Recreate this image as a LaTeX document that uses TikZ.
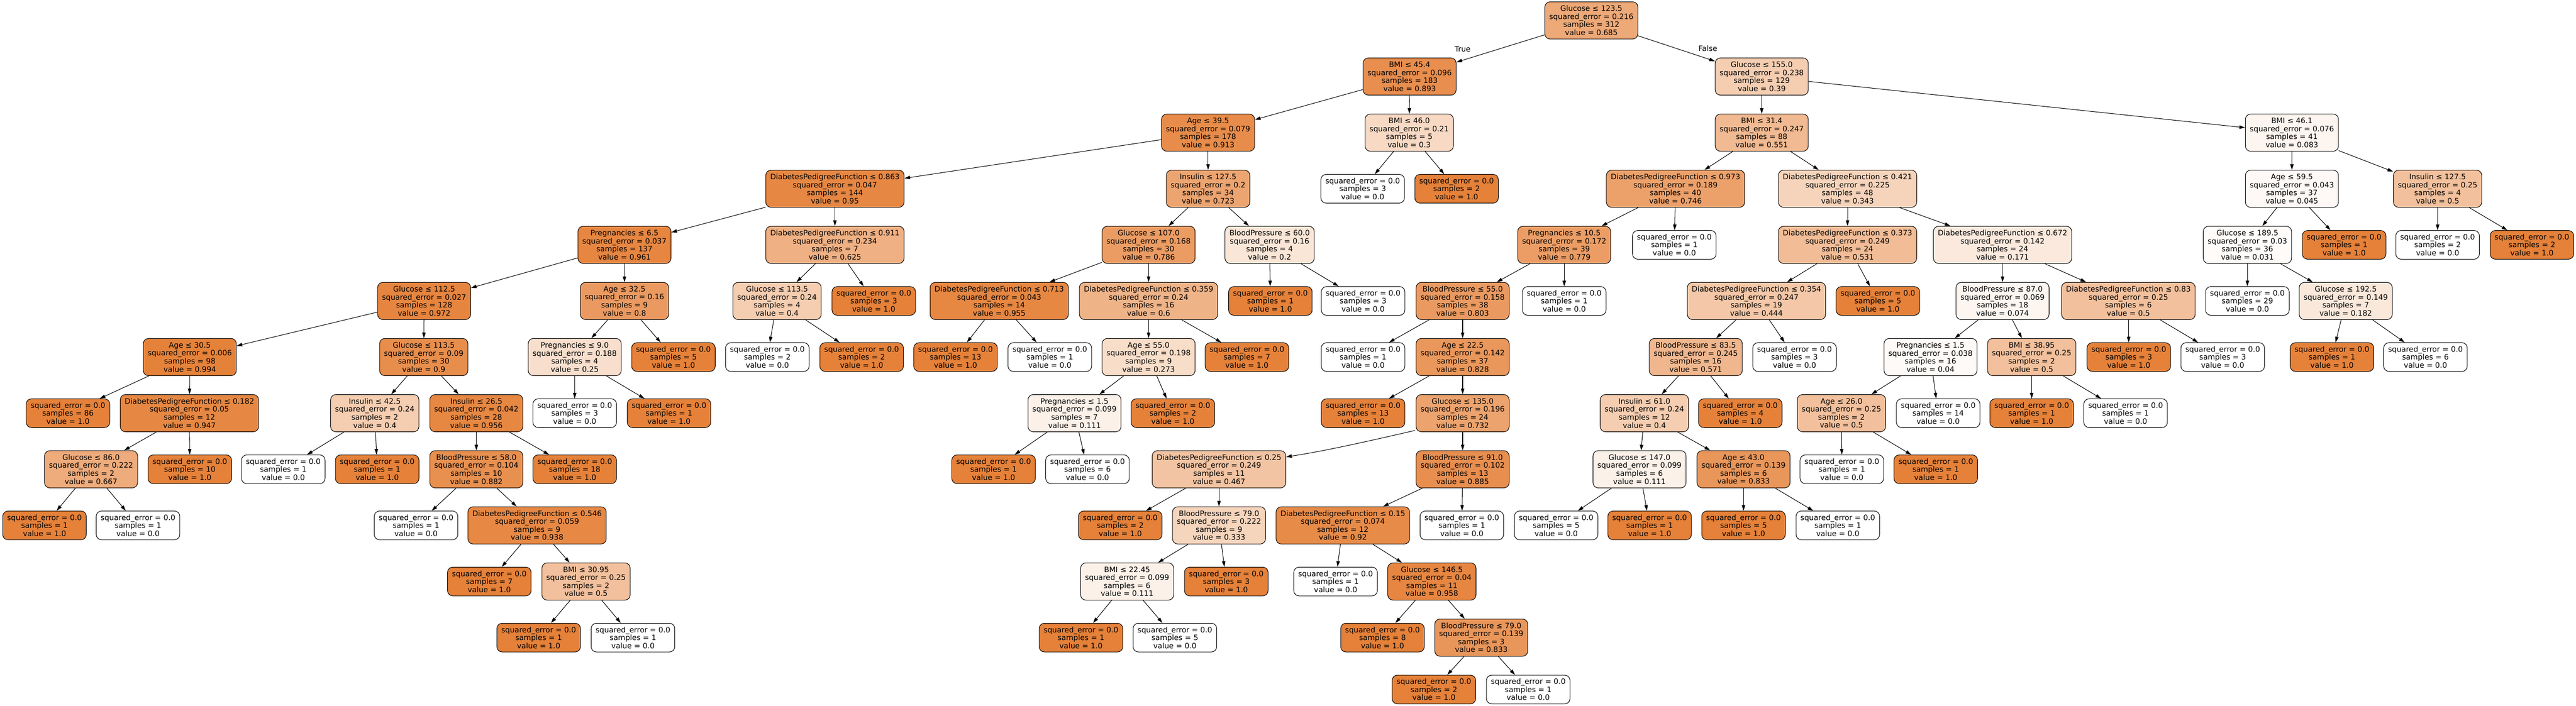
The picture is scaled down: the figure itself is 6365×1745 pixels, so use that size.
\documentclass[tikz,border=0pt]{standalone}
\usepackage{fontspec}
\setmainfont{DejaVu Sans}
\usetikzlibrary{arrows.meta}
\definecolor{tor}{RGB}{229,129,57}
\newcommand\tIN[7]{\pgfmathsetmacro\tpct{100*#7}\node[inn,fill=tor!\tpct] (#1) at (#2,#3) {#4\\squared\_error = #5\\samples = #6\\value = #7};}
\newcommand\tLF[5]{\pgfmathsetmacro\tpct{100*#5}\node[lf,fill=tor!\tpct] (#1) at (#2,#3) {squared\_error = 0.0\\samples = #4\\value = #5};}
\tikzset{
 tbox/.style={draw=black, line width=1.33pt, rounded corners=13pt, align=center, inner xsep=11pt, inner ysep=0pt, font=\fontsize{18.4}{19.8}\selectfont, text=black},
 inn/.style={tbox, minimum height=92pt},
 lf/.style={tbox, minimum height=71pt},
 tedge/.style={draw=black, line width=1.33pt, -{Triangle[length=14pt,width=8.5pt]}},
 lbl/.style={font=\fontsize{18.4}{19.8}\selectfont, inner sep=0pt, text=black}
}
\begin{document}
\begin{tikzpicture}[x=1pt,y=-1pt]
\useasboundingbox (0,0) rectangle (6365,1745);
% level 0
\tIN{n0}{3932}{50.5}{Glucose ≤ 123.5}{0.216}{312}{0.685}
% level 1
\tIN{n1}{3483}{189.2}{BMI ≤ 45.4}{0.096}{183}{0.893}
\tIN{n2}{4353}{189.2}{Glucose ≤ 155.0}{0.238}{129}{0.39}
% level 2
\tIN{n3}{2985}{327.9}{Age ≤ 39.5}{0.079}{178}{0.913}
\tIN{n4}{3482}{327.9}{BMI ≤ 46.0}{0.21}{5}{0.3}
\tIN{n5}{4353}{327.9}{BMI ≤ 31.4}{0.247}{88}{0.551}
\tIN{n6}{5663}{327.9}{BMI ≤ 46.1}{0.076}{41}{0.083}
% level 3
\tIN{n7}{2063}{466.6}{DiabetesPedigreeFunction ≤ 0.863}{0.047}{144}{0.95}
\tIN{n8}{2985}{466.6}{Insulin ≤ 127.5}{0.2}{34}{0.723}
\tLF{n9}{3367}{466.6}{3}{0.0}
\tLF{n10}{3599}{466.6}{2}{1.0}
\tIN{n11}{4140}{466.6}{DiabetesPedigreeFunction ≤ 0.973}{0.189}{40}{0.746}
\tIN{n12}{4565}{466.6}{DiabetesPedigreeFunction ≤ 0.421}{0.225}{48}{0.343}
\tIN{n13}{5663}{466.6}{Age ≤ 59.5}{0.043}{37}{0.045}
\tIN{n14}{6023}{466.6}{Insulin ≤ 127.5}{0.25}{4}{0.5}
% level 4
\tIN{n15}{1543}{605.3}{Pregnancies ≤ 6.5}{0.037}{137}{0.961}
\tIN{n16}{2063}{605.3}{DiabetesPedigreeFunction ≤ 0.911}{0.234}{7}{0.625}
\tIN{n17}{2838}{605.3}{Glucose ≤ 107.0}{0.168}{30}{0.786}
\tIN{n18}{3137}{605.3}{BloodPressure ≤ 60.0}{0.16}{4}{0.2}
\tIN{n19}{3865}{605.3}{Pregnancies ≤ 10.5}{0.172}{39}{0.779}
\tLF{n20}{4137}{605.3}{1}{0.0}
\tIN{n21}{4565}{605.3}{DiabetesPedigreeFunction ≤ 0.373}{0.249}{24}{0.531}
\tIN{n22}{4948}{605.3}{DiabetesPedigreeFunction ≤ 0.672}{0.142}{24}{0.171}
\tIN{n23}{5553}{605.3}{Glucose ≤ 189.5}{0.03}{36}{0.031}
\tLF{n24}{5792}{605.3}{1}{1.0}
\tLF{n25}{6023}{605.3}{2}{0.0}
\tLF{n26}{6256}{605.3}{2}{1.0}
% level 5
\tIN{n27}{1048}{744.0}{Glucose ≤ 112.5}{0.027}{128}{0.972}
\tIN{n28}{1543}{744.0}{Age ≤ 32.5}{0.16}{9}{0.8}
\tIN{n29}{1920}{744.0}{Glucose ≤ 113.5}{0.24}{4}{0.4}
\tLF{n30}{2159}{744.0}{3}{1.0}
\tIN{n31}{2469}{744.0}{DiabetesPedigreeFunction ≤ 0.713}{0.043}{14}{0.955}
\tIN{n32}{2838}{744.0}{DiabetesPedigreeFunction ≤ 0.359}{0.24}{16}{0.6}
\tLF{n33}{3139}{744.0}{1}{1.0}
\tLF{n34}{3368}{744.0}{3}{0.0}
\tIN{n35}{3614}{744.0}{BloodPressure ≤ 55.0}{0.158}{38}{0.803}
\tLF{n36}{3865}{744.0}{1}{0.0}
\tIN{n37}{4340}{744.0}{DiabetesPedigreeFunction ≤ 0.354}{0.247}{19}{0.444}
\tLF{n38}{4640}{744.0}{5}{1.0}
\tIN{n39}{4948}{744.0}{BloodPressure ≤ 87.0}{0.069}{18}{0.074}
\tIN{n40}{5259}{744.0}{DiabetesPedigreeFunction ≤ 0.83}{0.25}{6}{0.5}
\tLF{n41}{5553}{744.0}{29}{0.0}
\tIN{n42}{5796}{744.0}{Glucose ≤ 192.5}{0.149}{7}{0.182}
% level 6
\tIN{n43}{469}{882.7}{Age ≤ 30.5}{0.006}{98}{0.994}
\tIN{n44}{1047}{882.7}{Glucose ≤ 113.5}{0.09}{30}{0.9}
\tIN{n45}{1420}{882.7}{Pregnancies ≤ 9.0}{0.188}{4}{0.25}
\tLF{n46}{1664}{882.7}{5}{1.0}
\tLF{n47}{1896}{882.7}{2}{0.0}
\tLF{n48}{2129}{882.7}{2}{1.0}
\tLF{n49}{2361}{882.7}{13}{1.0}
\tLF{n50}{2594}{882.7}{1}{0.0}
\tIN{n51}{2838}{882.7}{Age ≤ 55.0}{0.198}{9}{0.273}
\tLF{n52}{3081}{882.7}{7}{1.0}
\tLF{n53}{3368}{882.7}{1}{0.0}
\tIN{n54}{3614}{882.7}{Age ≤ 22.5}{0.142}{37}{0.828}
\tIN{n55}{4190}{882.7}{BloodPressure ≤ 83.5}{0.245}{16}{0.571}
\tLF{n56}{4434}{882.7}{3}{0.0}
\tIN{n57}{4770}{882.7}{Pregnancies ≤ 1.5}{0.038}{16}{0.04}
\tIN{n58}{5020}{882.7}{BMI ≤ 38.95}{0.25}{2}{0.5}
\tLF{n59}{5260}{882.7}{3}{1.0}
\tLF{n60}{5492}{882.7}{3}{0.0}
\tLF{n61}{5762}{882.7}{1}{1.0}
\tLF{n62}{5993}{882.7}{6}{0.0}
% level 7
\tLF{n63}{168}{1021.4}{86}{1.0}
\tIN{n64}{468}{1021.4}{DiabetesPedigreeFunction ≤ 0.182}{0.05}{12}{0.947}
\tIN{n65}{926}{1021.4}{Insulin ≤ 42.5}{0.24}{2}{0.4}
\tIN{n66}{1177}{1021.4}{Insulin ≤ 26.5}{0.042}{28}{0.956}
\tLF{n67}{1420}{1021.4}{3}{0.0}
\tLF{n68}{1653}{1021.4}{1}{1.0}
\tIN{n69}{2655}{1021.4}{Pregnancies ≤ 1.5}{0.099}{7}{0.111}
\tLF{n70}{2898}{1021.4}{2}{1.0}
\tLF{n71}{3368}{1021.4}{13}{1.0}
\tIN{n72}{3614}{1021.4}{Glucose ≤ 135.0}{0.196}{24}{0.732}
\tIN{n73}{4063}{1021.4}{Insulin ≤ 61.0}{0.24}{12}{0.4}
\tLF{n74}{4300}{1021.4}{4}{1.0}
\tIN{n75}{4550}{1021.4}{Age ≤ 26.0}{0.25}{2}{0.5}
\tLF{n76}{4789}{1021.4}{14}{0.0}
\tLF{n77}{5020}{1021.4}{1}{1.0}
\tLF{n78}{5252}{1021.4}{1}{0.0}
% level 8
\tIN{n79}{225}{1160.1}{Glucose ≤ 86.0}{0.222}{2}{0.667}
\tLF{n80}{469}{1160.1}{10}{1.0}
\tLF{n81}{700}{1160.1}{1}{0.0}
\tLF{n82}{932}{1160.1}{1}{1.0}
\tIN{n83}{1177}{1160.1}{BloodPressure ≤ 58.0}{0.104}{10}{0.882}
\tLF{n84}{1420}{1160.1}{18}{1.0}
\tLF{n85}{2455}{1160.1}{1}{1.0}
\tLF{n86}{2687}{1160.1}{6}{0.0}
\tIN{n87}{3012}{1160.1}{DiabetesPedigreeFunction ≤ 0.25}{0.249}{11}{0.467}
\tIN{n88}{3614}{1160.1}{BloodPressure ≤ 91.0}{0.102}{13}{0.885}
\tIN{n89}{4051}{1160.1}{Glucose ≤ 147.0}{0.099}{6}{0.111}
\tIN{n90}{4308}{1160.1}{Age ≤ 43.0}{0.139}{6}{0.833}
\tLF{n91}{4551}{1160.1}{1}{0.0}
\tLF{n92}{4783}{1160.1}{1}{1.0}
% level 9
\tLF{n93}{110}{1298.8}{1}{1.0}
\tLF{n94}{341}{1298.8}{1}{0.0}
\tLF{n95}{1028}{1298.8}{1}{0.0}
\tIN{n96}{1327}{1298.8}{DiabetesPedigreeFunction ≤ 0.546}{0.059}{9}{0.938}
\tLF{n97}{2768}{1298.8}{2}{1.0}
\tIN{n98}{3012}{1298.8}{BloodPressure ≤ 79.0}{0.222}{9}{0.333}
\tIN{n99}{3318}{1298.8}{DiabetesPedigreeFunction ≤ 0.15}{0.074}{12}{0.92}
\tLF{n100}{3612}{1298.8}{1}{0.0}
\tLF{n101}{3845}{1298.8}{5}{0.0}
\tLF{n102}{4076}{1298.8}{1}{1.0}
\tLF{n103}{4308}{1298.8}{5}{1.0}
\tLF{n104}{4541}{1298.8}{1}{0.0}
% level 10
\tLF{n105}{1209}{1437.5}{7}{1.0}
\tIN{n106}{1448}{1437.5}{BMI ≤ 30.95}{0.25}{2}{0.5}
\tIN{n107}{2785}{1437.5}{BMI ≤ 22.45}{0.099}{6}{0.111}
\tLF{n108}{3030}{1437.5}{3}{1.0}
\tLF{n109}{3300}{1437.5}{1}{0.0}
\tIN{n110}{3538}{1437.5}{Glucose ≤ 146.5}{0.04}{11}{0.958}
% level 11
\tLF{n111}{1331}{1576.2}{1}{1.0}
\tLF{n112}{1564}{1576.2}{1}{0.0}
\tLF{n113}{2671}{1576.2}{1}{1.0}
\tLF{n114}{2903}{1576.2}{5}{0.0}
\tLF{n115}{3416}{1576.2}{8}{1.0}
\tIN{n116}{3660}{1576.2}{BloodPressure ≤ 79.0}{0.139}{3}{0.833}
% level 12
\tLF{n117}{3543}{1704.5}{2}{1.0}
\tLF{n118}{3776}{1704.5}{1}{0.0}
% edges
\foreach \a/\b in {n0/n1,n0/n2,n1/n3,n1/n4,n2/n5,n2/n6,n3/n7,n3/n8,n4/n9,n4/n10,
 n5/n11,n5/n12,n6/n13,n6/n14,n7/n15,n7/n16,n8/n17,n8/n18,n11/n19,n11/n20,
 n12/n21,n12/n22,n13/n23,n13/n24,n14/n25,n14/n26,n15/n27,n15/n28,n16/n29,n16/n30,
 n17/n31,n17/n32,n18/n33,n18/n34,n19/n35,n19/n36,n21/n37,n21/n38,n22/n39,n22/n40,
 n23/n41,n23/n42,n27/n43,n27/n44,n28/n45,n28/n46,n29/n47,n29/n48,n31/n49,n31/n50,
 n32/n51,n32/n52,n35/n53,n35/n54,n37/n55,n37/n56,n39/n57,n39/n58,n40/n59,n40/n60,
 n42/n61,n42/n62,n43/n63,n43/n64,n44/n65,n44/n66,n45/n67,n45/n68,n51/n69,n51/n70,
 n54/n71,n54/n72,n55/n73,n55/n74,n57/n75,n57/n76,n58/n77,n58/n78,n64/n79,n64/n80,
 n65/n81,n65/n82,n66/n83,n66/n84,n69/n85,n69/n86,n72/n88,n73/n89,n73/n90,
 n75/n91,n75/n92,n79/n93,n79/n94,n83/n95,n83/n96,n87/n97,n87/n98,n88/n99,n88/n100,
 n89/n101,n89/n102,n90/n103,n90/n104,n96/n105,n96/n106,n98/n107,n98/n108,n99/n109,n99/n110,
 n106/n111,n106/n112,n107/n113,n107/n114,n110/n115,n110/n116,n116/n117,n116/n118}
 \draw[tedge] (\a) -- (\b);
\draw[tedge] ([xshift=-2pt,yshift=4pt]n72.south west) .. controls +(-100,23) and +(100,-15) .. ([yshift=-16pt]n87.north east);
% branch labels
\node[lbl] (ltrue) at (3614,121) {True};
\node[lbl] (lfalse) at (4220,120) {False};
\end{tikzpicture}
\end{document}
